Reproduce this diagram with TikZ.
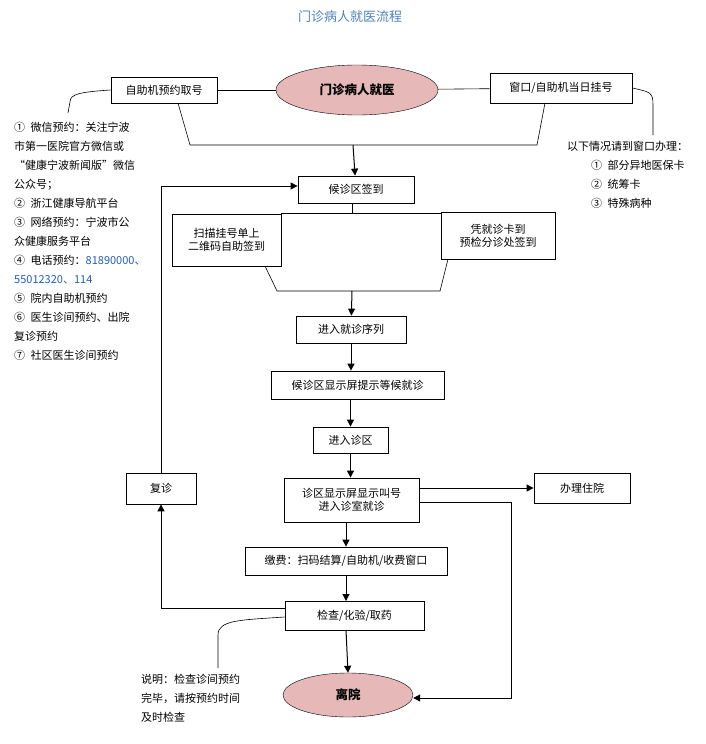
\documentclass[tikz,border=0pt]{standalone}
\usepackage{fontspec}
\setmainfont{Noto Sans CJK SC}
\usetikzlibrary{arrows.meta,shapes.geometric}
\definecolor{pinkf}{HTML}{E6B9B8}
\definecolor{titleb}{HTML}{4F81BD}
\definecolor{numb}{HTML}{1F5FBF}
\begin{document}
\begin{tikzpicture}[x=1pt,y=-1pt,
  every node/.style={font=\fontsize{11}{13}\selectfont},
  box/.style={draw,thick,inner sep=2pt,align=center},
  oval/.style={draw,ellipse,fill=pinkf,font=\fontsize{12.5}{14}\selectfont\bfseries},
  arr/.style={-{Triangle[length=7pt,width=7pt]},line width=1pt},
  ln/.style={line width=0.6pt},
  txt/.style={align=left,anchor=north west,inner sep=0pt,font=\fontsize{11}{19}\selectfont}]
\useasboundingbox (0,0) rectangle (706,744);
\node[font=\fontsize{13}{15}\selectfont,text=titleb] (title) at (350,17) {门诊病人就医流程};
\node[oval,minimum width=162,minimum height=50] (start) at (357,90) {门诊病人就医};
\node[box,minimum width=106,minimum height=26] (b1) at (164,90) {自助机预约取号};
\node[box,minimum width=142,minimum height=30] (b2) at (561,88) {窗口/自助机当日挂号};
\draw[ln] (b1) -- (start); \draw[ln] (start) -- (b2);
\coordinate (f1) at (178,103); \coordinate (f2) at (190,145); \coordinate (f3) at (537,145); \coordinate (f4) at (545,103);
\coordinate (fm) at (353,145);
\draw[ln] (f1) -- (f2) -- (f3) -- (f4);
\node[box,minimum width=116,minimum height=27] (c1) at (356,189.5) {候诊区签到};
\draw[arr] (fm) -- (c1);
\node[box,minimum width=109,minimum height=52] (s1) at (226.5,240) {扫描挂号单上\\二维码自助签到};
\node[box,minimum width=114,minimum height=47] (s2) at (498,235.5) {凭就诊卡到\\预检分诊处签到};
\coordinate (g0) at (352,213);
\draw[ln] (c1.south -| g0) -- (g0);
\draw[ln] (s1.east |- g0) -- (s2.west |- g0);
\coordinate (h1) at (265,266); \coordinate (h2) at (277,291); \coordinate (h3) at (440,291); \coordinate (h4) at (448,259);
\coordinate (hm) at (352,291);
\draw[ln] (h1) -- (h2) -- (h3) -- (h4);
\node[box,minimum width=110,minimum height=27] (q) at (351,329.5) {进入就诊序列};
\draw[arr] (hm) -- (q);
\node[box,minimum width=173,minimum height=28] (w) at (357.5,385) {候诊区显示屏提示等候就诊};
\draw[arr] (q) -- (q |- w.north);
\node[box,minimum width=75,minimum height=26] (z) at (350.5,440) {进入诊区};
\draw[arr] (w.south -| z) -- (z);
\node[box,minimum width=135,minimum height=44] (call) at (351.5,500) {诊区显示屏显示叫号\\进入诊室就诊};
\draw[arr] (z) -- (z |- call.north);
\node[box,minimum width=96,minimum height=30] (in) at (582,488) {办理住院};
\draw[arr] (call.east |- in) -- (in);
\node[box,minimum width=202,minimum height=28] (pay) at (346,561) {缴费：扫码结算/自助机/收费窗口};
\draw[arr] (call.south -| pay) -- (pay);
\node[box,minimum width=139,minimum height=29] (chk) at (354.5,615.5) {检查/化验/取药};
\draw[arr] (pay.south -| 346,0) -- (346,601);
\node[oval,minimum width=130,minimum height=44] (out) at (348,695) {离院};
\draw[arr] (346,630) -- (out.north);
\coordinate (r1) at (511,502); \coordinate (r2) at (511,698);
\draw[arr] (419,502) -- (r1) -- (r2) -- (out.east |- r2);
\node[box,minimum width=70,minimum height=31] (re) at (161,488.5) {复诊};
\coordinate (l1) at (161,608);
\draw[arr] (chk.west |- l1) -- (l1) -- (re.south);
\coordinate (l2) at (161,186);
\draw[arr] (re.north) -- (l2) -- (l2 -| c1.west);
\coordinate (k1) at (68,113);
\draw[ln] (b1.west) .. controls (80,92) and (70,94) .. (70,102) -- (k1);
\coordinate (k2) at (653,135);
\draw[ln] (b2.east) .. controls (650,92) and (653,92) .. (653,105) -- (k2);
\coordinate (k3) at (218,668);
\draw[ln] (chk.west |- 0,617) .. controls (240,620) and (218,620) .. (218,635) -- (k3);
\node[txt] (lt) at (14,122) {①\enspace 微信预约：关注宁波\\市第一医院官方微信或\\“健康宁波新闻版”微信\\公众号；\\②\enspace 浙江健康导航平台\\③\enspace 网络预约：宁波市公\\众健康服务平台\\④\enspace 电话预约：\textcolor{numb}{81890000、}\\\textcolor{numb}{55012320、114}\\⑤\enspace 院内自助机预约\\⑥\enspace 医生诊间预约、出院\\复诊预约\\⑦\enspace 社区医生诊间预约};
\node[txt] (rt) at (567,141) {以下情况请到窗口办理：\\\hspace*{24pt}①\enspace 部分异地医保卡\\\hspace*{24pt}②\enspace 统筹卡\\\hspace*{24pt}③\enspace 特殊病种};
\node[txt] (nt) at (141,674) {说明：检查诊间预约\\完毕，请按预约时间\\及时检查};
\end{tikzpicture}
\end{document}
